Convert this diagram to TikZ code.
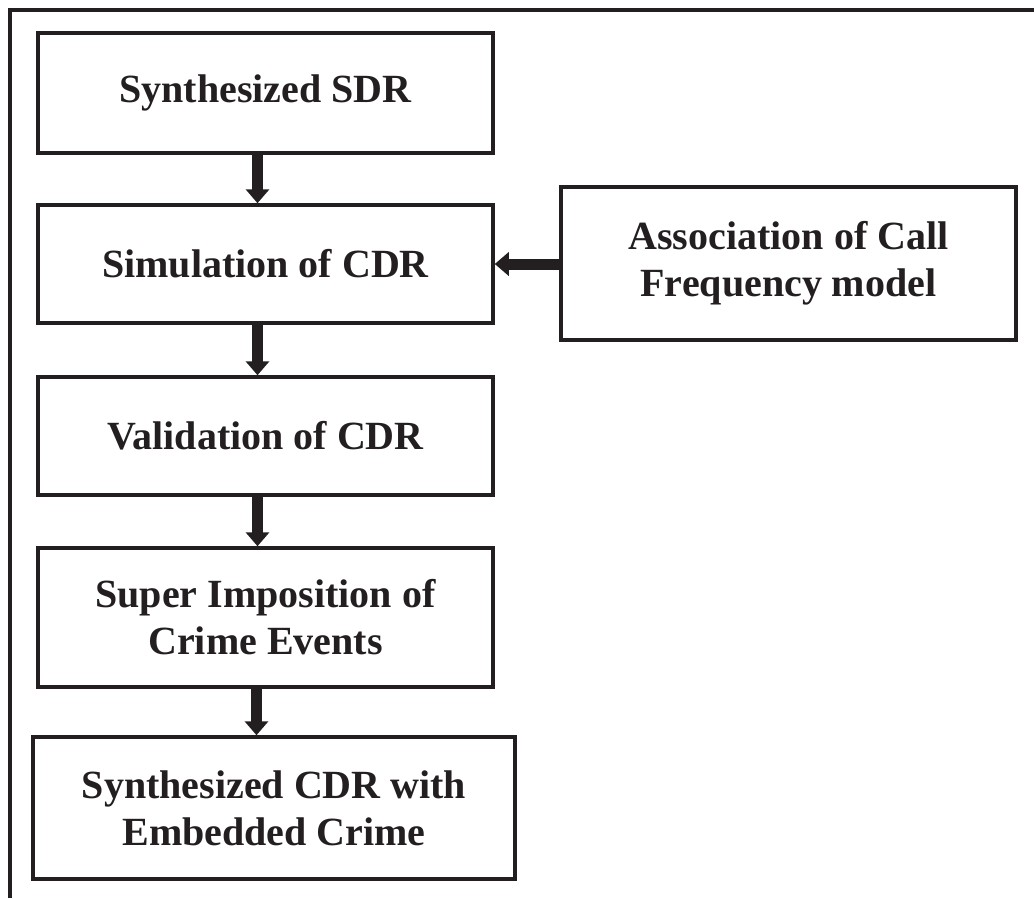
\documentclass[tikz,border=0pt]{standalone}
\usepackage{fontspec}
\setmainfont{Liberation Serif}
\usetikzlibrary{arrows.meta}
\definecolor{ink}{HTML}{231F20}
\begin{document}
\begin{tikzpicture}[x=1pt,y=-1pt,
  stepbox/.style={draw=ink,line width=3.5pt,align=center,inner sep=0pt,
    font=\fontsize{40}{47}\selectfont\bfseries,text=ink},
  flow/.style={draw=ink,line width=11pt,-{Triangle[width=23pt,length=14pt]}}]
\useasboundingbox (0,0) rectangle (1034,898);
% partial outer frame
\draw[ink,line width=3.5pt] (10,898) -- (10,10) -- (1034,10);
% process steps
\node[stepbox,minimum width=455pt,minimum height=120pt] (sdr) at (265.5,93) {Synthesized SDR};
\node[stepbox,minimum width=455pt,minimum height=118pt] (sim) at (265.5,264) {Simulation of CDR};
\node[stepbox,minimum width=455pt,minimum height=153pt] (assoc) at (788.5,263.5) {Association of Call\\Frequency model};
\node[stepbox,minimum width=455pt,minimum height=118pt] (valid) at (265.5,436) {Validation of CDR};
\node[stepbox,minimum width=455pt,minimum height=139pt] (super) at (265.5,617.5) {Super Imposition of\\Crime Events};
\node[stepbox,minimum width=482pt,minimum height=142pt] (out) at (274,808) {Synthesized CDR with\\Embedded Crime};
% connectors
\draw[flow] ([xshift=-8pt]sdr.south) -- ([xshift=-8pt]sim.north);
\draw[flow] ([xshift=-8pt]sim.south) -- ([xshift=-8pt]valid.north);
\draw[flow] ([xshift=-8pt]valid.south) -- ([xshift=-8pt]super.north);
\draw[flow] ([xshift=-9pt]super.south) -- ([xshift=-17.5pt]out.north);
\draw[flow] (assoc.west |- sim.east) -- (sim.east);
\end{tikzpicture}
\end{document}
